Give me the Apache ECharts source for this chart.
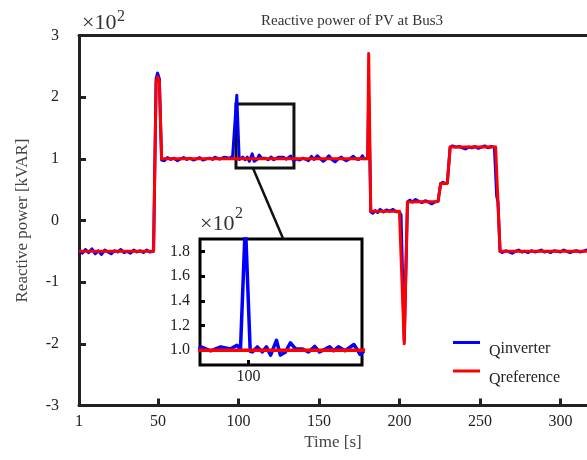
<!DOCTYPE html>
<html><head><meta charset="utf-8">
<script src="https://cdn.jsdelivr.net/npm/echarts@6/dist/echarts.min.js"></script>
<style>html,body{margin:0;padding:0;background:#fff}#c{width:587px;height:460px}</style>
</head><body><div id="c"></div>
<script>
const FONT = '"Liberation Serif", "Times New Roman", serif';
const chartTitle = 'Reactive power of PV at Bus3';
const xTicks = [1, 50, 100, 150, 200, 250, 300];
const insetXTicks = [100];
const insetYTicks = [100, 120, 140, 160, 180];
const seriesNames = ['Qinverter', 'Qreference'];

// Q inverter [time s, kVAR]
const qInverter = [
  [1,-49],[3,-53],[5,-47],[7,-52],[9,-46],[11,-54],[13,-49],[15,-55],[17,-48],[19,-51],
  [21,-54],[23,-49],[25,-51],[27,-47],[29,-52],[31,-50],[33,-53],[35,-48],[37,-51],[39,-49],
  [41,-52],[43,-48],[45,-51],[46,-50],[47.3,-50],[48.9,230],[49.8,239],[50.9,230],[52.3,98],
  [54,97],[56,102],[58,99],[60,101],[62,97],[64,100],[66,102],[68,99],[70,101],[72,98],
  [74,100],[76,102],[78,98],[80,100],[82,101],[84,99],
  [85.3,102.7],[88.3,99.5],[91.4,102.7],[94.4,101],[96.4,104],[97.5,101],[99,203],[100.5,99],
  [101.2,98.6],[102.7,102.7],[104.2,98.6],[105.5,102.7],[106.8,96],[108.6,108],[109.8,96],
  [111.4,98.6],[112.9,106],[114.5,101],[116.5,101],[118.5,98.5],[120.4,103],[121.9,98.5],
  [125,102.7],[126.2,99.5],[127.7,102.7],[129.8,99.5],[132.5,104.6],[134.4,96.7],
  [136,100],[138,98],[140,101],[142,99],[143.5,97],[145.4,104],[147,99],[149,105],[151,100],
  [152.7,96],[154.5,100],[156.2,105],[158,99],[160,95],[162,100],[164,103],[165.5,99],[167,97],
  [169,100],[171.4,104],[173,100],[174.6,99],[176,101],[177,105],[178,100],[178.7,103],[180.3,101],
  [180.9,200],[181.5,120],[182.2,14],
  [183.5,12],[185,16],[186.5,13],[188,18],[190,14],[192,17],[194,15],[196,18],[198,14],
  [200,14],[201,9],[203,-195],[205,30],
  [206.5,33],[208,30],[210,34],[212,31],[214,29],[216,32],[218,30],[220,27],[222,30],[224,31],
  [225.6,60],[227,62],[228.5,60],[229.75,61],[231.5,119],
  [233,121],[235,119],[237,120],[239,118],[241,116],[243,119],[245,118],[247,120],[249,117],
  [251,119],[253,121],[255,118],[257,120],[259,119],[260.2,118],[260.4,40],[261.2,30],[262.5,-50],
  [264,-52],[266,-49],[268,-51],[270,-53],[272,-50],[274,-48],[276,-51],[278,-50],[280,-52],
  [282,-49],[284,-51],[286,-50],[288,-48],[290,-51],[292,-50],[294,-52],[296,-49],[298,-50],
  [300,-51],[302,-48],[304,-50],[306,-52],[308,-50],[310,-49],[312,-51],[314,-50],[316,-48],
  [318,-51],[320,-50],[322,-52],[324,-49],[326,-50],[328,-51],[330,-50],[332,-49],[335,-50]
];

// Q reference [time s, kVAR]
const qReference = [
  [1,-50],[47.3,-50],[48.9,225],[49.8,233],[50.9,225],[52.3,100],[180.3,100],[180.9,271],
  [182.2,15],[200,15],[201,12],[203,-200],[205,30],[224,31],[225.6,60],[229.75,60],
  [231.5,119],[259.75,119],[262.5,-50],[335,-50]
];

const xRange = [1, 316.5];
const yRange = [-300, 300];
const zoomBoxT = [98.5, 134.5];
const zoomBoxV = [85, 189];
const insetRangeT = [85, 135];
const insetRangeV = [88, 190];
const connectorT = [109, 110.7]; // main-plot time at box bottom, inset time at inset top

const chart = echarts.init(document.getElementById('c'), null, {renderer: 'canvas'});

const frameLine = {show: true, onZero: false, lineStyle: {width: 3, color: '#222'}};
const axisTickStyle = {lineStyle: {width: 3, color: '#222'}};
const labelStyle = {fontFamily: FONT, fontSize: 16, color: '#222'};

function legendFmt(name) {
  return '{q|Q}{t|' + name.slice(1) + '}';
}

const option = {
  animation: false,
  backgroundColor: '#fff',
  title: {
    text: chartTitle, left: 347, top: 9, textAlign: 'center',
    textStyle: {fontFamily: FONT, fontSize: 15, fontWeight: 'normal', color: '#333'}
  },
  legend: {
    data: seriesNames, orient: 'vertical', left: 448, top: 336,
    icon: 'rect', itemWidth: 27, itemHeight: 3, itemGap: 10,
    formatter: legendFmt,
    textStyle: {
      fontFamily: FONT, fontSize: 16, color: '#222', padding: [13, 0, 0, 4],
      rich: {
        q: {fontFamily: FONT, fontSize: 16, color: '#222', padding: [5, 0, 0, 0]},
        t: {fontFamily: FONT, fontSize: 16, color: '#222'}
      }
    }
  },
  grid: [
    {left: 79, top: 35.5, right: 0, height: 370, show: false},
    {left: 200, top: 239, width: 162, height: 126, show: true, borderColor: '#000', borderWidth: 3, backgroundColor: '#fff', z: 3}
  ],
  xAxis: [
    {
      type: 'value', gridIndex: 0, min: xRange[0], max: xRange[1],
      axisLine: frameLine,
      axisTick: Object.assign({inside: true, length: 7, customValues: xTicks}, axisTickStyle),
      axisLabel: Object.assign({customValues: xTicks, margin: 8}, labelStyle),
      splitLine: {show: false},
      name: 'Time [s]', nameLocation: 'middle', nameGap: 27,
      nameTextStyle: {fontFamily: FONT, fontSize: 17, color: '#444'}
    },
    {
      type: 'value', gridIndex: 1, min: insetRangeT[0], max: insetRangeT[1],
      axisLine: {show: false, onZero: false},
      axisTick: {inside: true, length: 5, customValues: insetXTicks, lineStyle: {width: 3, color: '#000'}},
      axisLabel: Object.assign({customValues: insetXTicks, margin: 4}, labelStyle),
      splitLine: {show: false}, z: 4
    },
    {
      type: 'value', gridIndex: 0, position: 'top', min: xRange[0], max: xRange[1],
      axisLine: frameLine, axisTick: {show: false}, axisLabel: {show: false}, splitLine: {show: false}
    }
  ],
  yAxis: [
    {
      type: 'value', gridIndex: 0, min: yRange[0], max: yRange[1], interval: 100,
      axisLine: frameLine,
      axisTick: Object.assign({inside: true, length: 7}, axisTickStyle),
      axisLabel: Object.assign({margin: 20, formatter: v => String(v / 100)}, labelStyle),
      splitLine: {show: false},
      name: 'Reactive power [kVAR]', nameLocation: 'middle', nameGap: 48, nameRotate: 90,
      nameTextStyle: {fontFamily: FONT, fontSize: 17, color: '#444'}
    },
    {
      type: 'value', gridIndex: 1, min: insetRangeV[0], max: insetRangeV[1],
      axisLine: {show: false, onZero: false},
      axisTick: {inside: true, length: 5, customValues: insetYTicks, lineStyle: {width: 3, color: '#000'}},
      axisLabel: Object.assign({customValues: insetYTicks, margin: 10, formatter: v => (v / 100).toFixed(1)}, labelStyle),
      splitLine: {show: false}, z: 4
    }
  ],
  series: [
    {
      name: seriesNames[0], type: 'line', xAxisIndex: 0, yAxisIndex: 0, data: qInverter,
      showSymbol: false, color: '#0000ff', lineStyle: {width: 3, color: '#0000ff', join: 'round'}, z: 2
    },
    {
      name: seriesNames[1], type: 'line', xAxisIndex: 0, yAxisIndex: 0, data: qReference,
      showSymbol: false, color: '#ff0000', lineStyle: {width: 3, color: '#ff0000', join: 'round'}, z: 3,
      markArea: {
        silent: true,
        itemStyle: {color: 'rgba(0,0,0,0)', borderColor: '#111', borderWidth: 3},
        label: {show: false},
        data: [[{coord: [zoomBoxT[0], zoomBoxV[1]]}, {coord: [zoomBoxT[1], zoomBoxV[0]]}]]
      }
    },
    {
      name: seriesNames[0], type: 'line', xAxisIndex: 1, yAxisIndex: 1, data: qInverter,
      showSymbol: false, color: '#0000ff', lineStyle: {width: 3.5, color: '#0000ff', join: 'round'}, z: 5, clip: true
    },
    {
      name: seriesNames[1], type: 'line', xAxisIndex: 1, yAxisIndex: 1, data: qReference,
      showSymbol: false, color: '#ff0000', lineStyle: {width: 3.5, color: '#ff0000', join: 'round'}, z: 6, clip: true
    }
  ]
};
chart.setOption(option);

const p0 = chart.convertToPixel({xAxisIndex: 0, yAxisIndex: 0}, [connectorT[0], zoomBoxV[0]]);
const p1 = chart.convertToPixel({xAxisIndex: 1, yAxisIndex: 1}, [connectorT[1], insetRangeV[1]]);

chart.setOption({
  graphic: [
    {type: 'text', left: 82, top: 12, style: {text: '×10', font: '22px ' + FONT, fill: '#333'}},
    {type: 'text', left: 117, top: 9, style: {text: '2', font: '16px ' + FONT, fill: '#333'}},
    {type: 'text', left: 200, top: 213, z: 10, style: {text: '×10', font: '22px ' + FONT, fill: '#333'}},
    {type: 'text', left: 235, top: 206, z: 10, style: {text: '2', font: '16px ' + FONT, fill: '#333'}},
    {type: 'line', z: 10, shape: {x1: p0[0], y1: p0[1], x2: p1[0], y2: p1[1]}, style: {stroke: '#111', lineWidth: 2.5}}
  ]
});
</script>
</body></html>
